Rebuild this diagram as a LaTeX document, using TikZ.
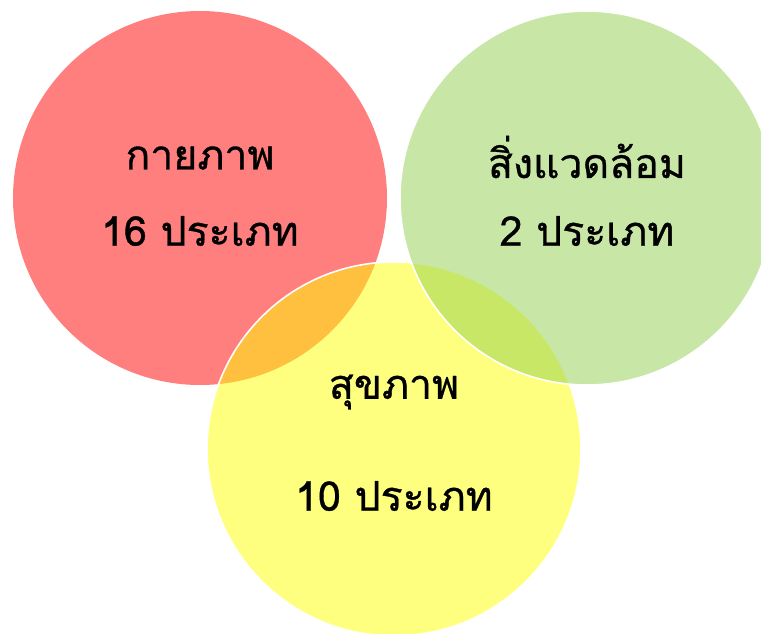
\documentclass[tikz,border=0pt]{standalone}
\usepackage{fontspec}
\newfontfamily\thaifont[Script=Thai,FakeBold=0.8]{Loma}
\definecolor{cred}{HTML}{FF0000}
\definecolor{cyel}{HTML}{FFFF00}
\definecolor{cgrn}{HTML}{92D050}
\tikzset{
  venn/.style={fill opacity=0.5, line width=1.6pt},
  lbl/.style={font=\thaifont\fontsize{41}{48}\selectfont, text=black, align=center, inner sep=0pt}
}
\begin{document}
\begin{tikzpicture}[x=1pt,y=-1pt]
\useasboundingbox (0,0) rectangle (761,633);
\clip (0,0) rectangle (761,633);
\fill[white] (0,0) rectangle (761,633);
\path[venn, fill=cred, draw=none] (200,198) circle[radius=187];
\path[venn, fill=cyel, draw=white, draw opacity=1] (394,449) circle[radius=187];
\path[venn, fill=cgrn, draw=white, draw opacity=1] (587,198) circle[radius=187];
\node[lbl] (a1) at (200,158) {กายภาพ};
\node[lbl] (a2) at (200,231) {16 ประเภท};
\node[lbl] (b1) at (587,157) {สิ่งแวดล้อม};
\node[lbl] (b2) at (587,231) {2 ประเภท};
\node[lbl] (c1) at (394,392) {สุขภาพ};
\node[lbl] (c2) at (394,496) {10 ประเภท};
\end{tikzpicture}
\end{document}
